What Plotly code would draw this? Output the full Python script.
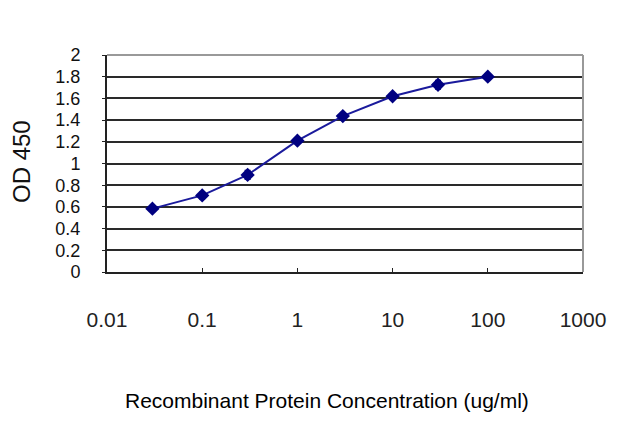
import plotly.graph_objects as go

concentration = [0.03, 0.1, 0.3, 1, 3, 10, 30, 100]
od450 = [0.584, 0.706, 0.895, 1.21, 1.437, 1.62, 1.726, 1.80]
od_err = [0.01, 0.03, 0.04, 0.02, 0.01, 0.02, 0.04, 0.01]

x_ticks = [0.01, 0.1, 1, 10, 100, 1000]
x_ticktext = ["0.01", "0.1", "1", "10", "100", "1000"]
y_ticks = [0, 0.2, 0.4, 0.6, 0.8, 1, 1.2, 1.4, 1.6, 1.8, 2]
y_ticktext = ["0", "0.2", "0.4", "0.6", "0.8", "1", "1.2", "1.4", "1.6", "1.8", "2"]

x_title = "Recombinant Protein Concentration (ug/ml)"
y_title = "OD 450"

font_family = "Liberation Sans, Arial, sans-serif"

fig = go.Figure()
fig.add_trace(go.Scatter(
    x=concentration, y=od450,
    mode="lines+markers",
    line=dict(color="#1a1a9c", width=2),
    marker=dict(symbol="diamond", size=11, color="#000080"),
    error_y=dict(type="data", array=od_err, color="#000080", thickness=1.5, width=3),
    showlegend=False,
))

fig.update_layout(
    width=640, height=427,
    margin=dict(l=99, r=65, t=47, b=163),
    paper_bgcolor="white", plot_bgcolor="white",
    font=dict(family=font_family, color="#111"),
    xaxis=dict(
        type="log", range=[-2, 3],
        tickvals=x_ticks, ticktext=x_ticktext,
        ticks="inside", ticklen=4, tickcolor="#222",
        showgrid=False,
        showline=True, linecolor="#222", linewidth=2, mirror=False,
        tickfont=dict(size=21, color="#222"),
        ticklabelstandoff=28,
    ),
    yaxis=dict(
        range=[0, 2],
        tickvals=y_ticks, ticktext=y_ticktext,
        ticks="outside", ticklen=3, tickcolor="#222",
        showgrid=True, gridcolor="#2a2a2a", gridwidth=2,
        zeroline=False,
        showline=True, linecolor="#222", linewidth=2,
        tickfont=dict(size=18, color="#111"),
        ticklabelstandoff=18,
    ),
    shapes=[
        dict(type="line", xref="paper", yref="paper", x0=0, x1=1, y0=1, y1=1,
             line=dict(color="#999", width=2)),
        dict(type="line", xref="paper", yref="paper", x0=1, x1=1, y0=0, y1=1,
             line=dict(color="#999", width=2)),
    ],
    annotations=[
        dict(text=x_title, xref="paper", yref="paper",
             x=(327 - 107) / 476, y=-(400 - 272) / 217,
             xanchor="center", yanchor="middle", showarrow=False,
             font=dict(size=21, color="#000")),
        dict(text=y_title, xref="paper", yref="paper",
             x=-(107 - 21) / 476, y=(272 - 162) / 217,
             xanchor="center", yanchor="middle", showarrow=False, textangle=-90,
             font=dict(size=24, color="#111")),
    ],
)

fig.write_html("out.html")
